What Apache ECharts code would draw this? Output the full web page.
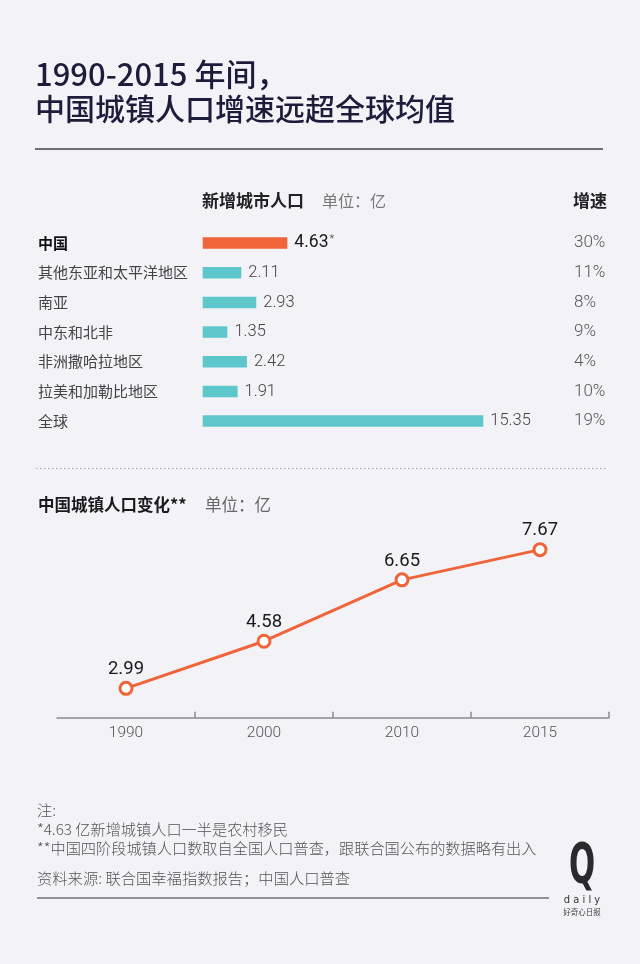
<!DOCTYPE html>
<html>
<head>
<meta charset="utf-8">
<script src="https://cdn.jsdelivr.net/npm/echarts@6/dist/echarts.min.js"></script>
<style>
html,body{margin:0;padding:0;background:#f3f3f7;}
#c{width:640px;height:964px;}
</style>
</head>
<body>
<div id="c"></div>
<script>
// ---- data ----
var regions = ['中国', '其他东亚和太平洋地区', '南亚', '中东和北非', '非洲撒哈拉地区', '拉美和加勒比地区', '全球'];
var newUrban = [4.63, 2.11, 2.93, 1.35, 2.42, 1.91, 15.35];
var growth = ['30%', '11%', '8%', '9%', '4%', '10%', '19%'];
var years = ['1990', '2000', '2010', '2015'];
var chinaUrban = [2.99, 4.58, 6.65, 7.67];

var ORANGE = '#ef6539';
var TEAL = '#5ec7cc';
var CJK = '"Noto Sans CJK SC", sans-serif';
var NUM = 'Roboto, "Noto Sans CJK SC", sans-serif';

var chart = echarts.init(document.getElementById('c'));

var option = {
  backgroundColor: '#f3f3f7',
  animation: false,
  grid: [
    {left: 202.7, right: 144.8, top: 228.2, bottom: 528.1},
    {left: 57, right: 31, top: 510.2, bottom: 246.3}
  ],
  xAxis: [
    {gridIndex: 0, type: 'value', min: 0, max: 16, show: false},
    {gridIndex: 1, type: 'category', data: years, boundaryGap: true,
     axisLine: {lineStyle: {color: '#8a8a8e', width: 1.5}},
     axisTick: {show: true, inside: true, length: 6, lineStyle: {color: '#8a8a8e', width: 1.5},
       interval: function (i) { return i !== 0; }},
     axisLabel: {color: '#555', fontSize: 15.5, fontFamily: NUM, fontWeight: 300, margin: 8, interval: 0}}
  ],
  yAxis: [
    {gridIndex: 0, type: 'category', data: regions, inverse: true,
     axisLine: {show: false}, axisTick: {show: false},
     axisLabel: {align: 'left', margin: 164.7, color: '#444', fontSize: 15, fontFamily: CJK,
       formatter: function (v, i) { return i === 0 ? '{b|' + v + '}' : v; },
       rich: {b: {fontWeight: 'bold', color: '#111', fontSize: 15, fontFamily: CJK}}}},
    {gridIndex: 0, type: 'category', data: growth, inverse: true, position: 'right',
     axisLine: {show: false}, axisTick: {show: false},
     axisLabel: {align: 'left', margin: 78.8, color: '#555', fontSize: 17, fontFamily: NUM, fontWeight: 300}},
    {gridIndex: 1, type: 'value', min: 2, max: 9, show: false}
  ],
  series: [
    {type: 'bar', xAxisIndex: 0, yAxisIndex: 0, barWidth: 11.5,
     data: newUrban.map(function (v, i) {
       return {value: v, itemStyle: {color: i === 0 ? ORANGE : TEAL}};
     }),
     label: {show: true, position: 'right', distance: 7, color: '#444', fontSize: 16.5,
       fontFamily: NUM, fontWeight: 300,
       formatter: function (p) {
         return p.dataIndex === 0 ? '{b|' + p.value.toFixed(2) + '}{s|*}' : p.value.toFixed(2);
       },
       rich: {
         b: {fontSize: 17.5, color: '#1a1a1a', fontFamily: NUM, fontWeight: 400},
         s: {fontSize: 11, color: '#444', verticalAlign: 'top', padding: [0, 0, 8, 1]}
       }}
    },
    {type: 'line', xAxisIndex: 1, yAxisIndex: 2, data: chinaUrban,
     symbol: 'circle', symbolSize: 12,
     lineStyle: {color: ORANGE, width: 3},
     itemStyle: {color: '#fff', borderColor: ORANGE, borderWidth: 3},
     label: {show: true, position: 'top', distance: 2, color: '#1a1a1a', fontSize: 18.5,
       fontFamily: NUM, fontWeight: 400,
       formatter: function (p) { return p.value.toFixed(2); }}
    }
  ],
  graphic: [
    {type: 'text', left: 35, top: 59, style: {text: '1990-2015 年间，', fill: '#1d1d3b', font: '500 31px ' + CJK}},
    {type: 'text', left: 35, top: 94, style: {text: '中国城镇人口增速远超全球均值', fill: '#1d1d3b', font: '500 30px ' + CJK}},
    {type: 'line', shape: {x1: 35, y1: 149, x2: 603, y2: 149}, style: {stroke: '#6e6e78', lineWidth: 2}},

    {type: 'text', left: 202, top: 192, style: {text: '新增城市人口', fill: '#222', font: 'bold 17px ' + CJK}},
    {type: 'text', left: 322, top: 193, style: {text: '单位：亿', fill: '#777', font: '16px ' + CJK}},
    {type: 'text', left: 573, top: 192, style: {text: '增速', fill: '#222', font: 'bold 17px ' + CJK}},

    {type: 'line', shape: {x1: 36, y1: 468.5, x2: 608, y2: 468.5}, style: {stroke: '#a8a8ae', lineWidth: 1.2, lineDash: [1.5, 2.5]}},

    {type: 'text', left: 38, top: 496, style: {text: '中国城镇人口变化**', fill: '#1a1a1a', font: 'bold 16.5px ' + CJK}},
    {type: 'text', left: 205, top: 496, style: {text: '单位：亿', fill: '#666', font: '16.5px ' + CJK}},

    {type: 'text', left: 37, top: 803, style: {text: '注:', fill: '#555', font: '300 15.2px ' + CJK}},
    {type: 'text', left: 37, top: 822, style: {text: '*4.63 亿新增城镇人口一半是农村移民', fill: '#555', font: '300 15.2px ' + CJK}},
    {type: 'text', left: 37, top: 841, style: {text: '**中国四阶段城镇人口数取自全国人口普查，跟联合国公布的数据略有出入', fill: '#555', font: '300 15.2px ' + CJK}},
    {type: 'text', left: 37, top: 871, style: {text: '资料来源: 联合国幸福指数报告；中国人口普查', fill: '#555', font: '300 15.3px ' + CJK}},
    {type: 'line', shape: {x1: 37, y1: 898, x2: 549, y2: 898}, style: {stroke: '#6e6e78', lineWidth: 1.5}},

    {type: 'text', x: 582, y: 867, scaleX: 0.55, style: {text: 'Q', fill: '#2a2a2e', font: 'bold 56px "DejaVu Sans"', textAlign: 'center', textVerticalAlign: 'middle'}},
    {type: 'text', x: 582, y: 900, style: {text: 'd a i l y', fill: '#333', font: '11px "DejaVu Sans Condensed"', textAlign: 'center', textVerticalAlign: 'middle'}},
    {type: 'text', x: 582, y: 912, style: {text: '好奇心日报', fill: '#444', font: '7.5px ' + CJK, textAlign: 'center', textVerticalAlign: 'middle'}}
  ]
};
chart.setOption(option);
</script>
</body>
</html>
